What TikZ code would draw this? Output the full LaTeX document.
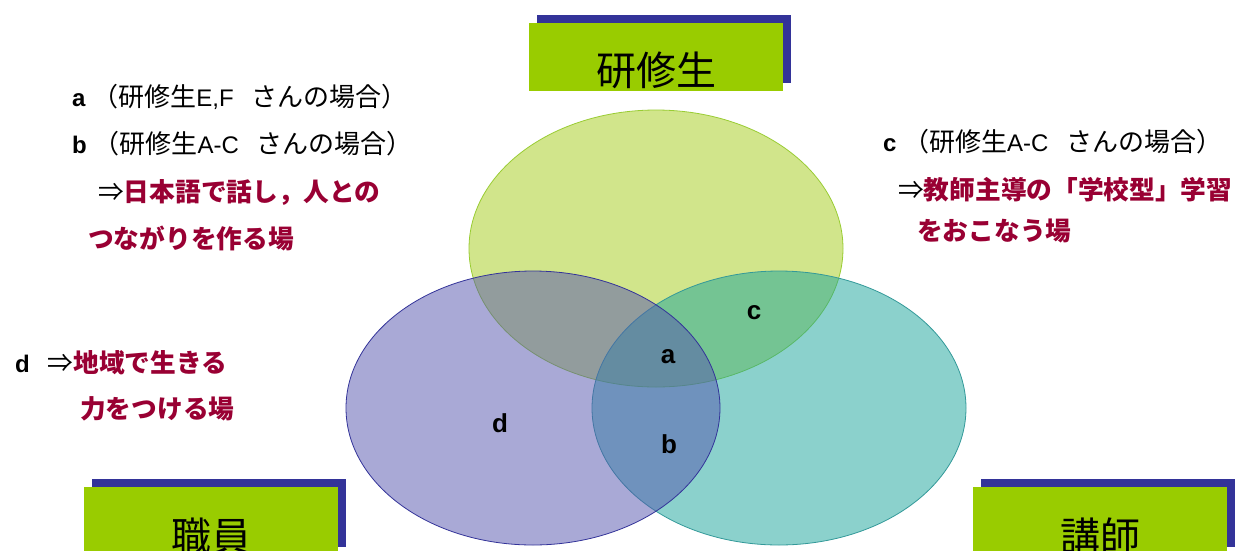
\documentclass[tikz,border=0pt]{standalone}
\usepackage{fontspec}
\setmainfont{Liberation Sans}
\newfontfamily\jp{Noto Sans CJK JP}
\usetikzlibrary{shadows,calc}
\definecolor{boxgreen}{RGB}{153,204,0}
\definecolor{navy}{RGB}{51,51,153}
\definecolor{wine}{RGB}{153,0,51}
\definecolor{gfill}{RGB}{165,205,25}
\definecolor{pfill}{RGB}{85,85,175}
\definecolor{tfill}{RGB}{25,165,155}
\definecolor{gline}{RGB}{153,204,51}
\definecolor{tline}{RGB}{51,153,153}
\newcommand{\jpn}[1]{{\jp\fontsize{26}{30}\selectfont #1}}
\tikzset{
  labelbox/.style={fill=boxgreen, draw=none, minimum width=254pt, minimum height=68pt, anchor=north west, inner sep=0pt,
    drop shadow={shadow xshift=8pt, shadow yshift=8pt, fill=navy, opacity=1}},
  boxtext/.style={font=\jp\fontsize{40}{44}\selectfont, inner sep=0pt},
  note/.style={anchor=west, inner sep=0pt, font=\fontsize{24}{28}\selectfont},
  rednote/.style={anchor=west, inner sep=0pt, text=wine, font=\jp\bfseries\fontsize{25.7}{29}\selectfont},
  region/.style={inner sep=0pt, font=\bfseries\fontsize{26}{30}\selectfont},
  circ/.style={fill opacity=0.5, draw opacity=1, line width=0.8pt}
}
\begin{document}
\begin{tikzpicture}[x=1pt,y=-1pt]
\useasboundingbox (0,0) rectangle (1235,550);
\clip (0,0) rectangle (1235,550);
\fill[white] (0,0) rectangle (1235,550);

% ellipses
\draw[circ, fill=gfill, draw=gline] (656,248.5) ellipse [x radius=187, y radius=138.5];
\draw[circ, fill=tfill, draw=tline] (779,408) ellipse [x radius=187, y radius=137];
\draw[circ, fill=pfill, draw=navy] (533,408) ellipse [x radius=187, y radius=137];

% region letters
\node[region] (ra) at (668,357) {a};
\node[region] (rb) at (669,444) {b};
\node[region] (rc) at (754,313) {c};
\node[region] (rd) at (500,423) {d};

% label boxes
\node[labelbox] (bk) at (529,23) {};
\node[boxtext] (tk) at ($(bk.north)+(0,47)$) {研修生};
\node[labelbox] (bs) at (84,487) {};
\node[boxtext] (ts) at ($(bs.north)+(0,49)$) {職員};
\node[labelbox] (bl) at (973,487) {};
\node[boxtext] (tl) at ($(bl.north)+(0,49)$) {講師};

% left notes
\node[note] (na) at (72,97) {\textbf{a} \jpn{（研修生}E,F\hspace{0.75em}\jpn{さんの場合）}};
\node[note] (nb) at (72,144) {\textbf{b} \jpn{（研修生}A-C\hspace{0.75em}\jpn{さんの場合）}};
\node[rednote] (nab1) at (98,192) {{\mdseries\color{black}⇒}日本語で話し，人との};
\node[rednote] (nab2) at (88,238) {つながりを作る場};

% right notes
\node[note] (nc) at (883,142) {\textbf{c} \jpn{（研修生}A-C\hspace{0.75em}\jpn{さんの場合）}};
\node[rednote] (nc1) at (898,190) {{\mdseries\color{black}⇒}教師主導の「学校型」学習};
\node[rednote] (nc2) at (917,231) {をおこなう場};

% d notes
\node[note] (nd) at (15,363) {\textbf{d}\hspace{18pt}{\jp\fontsize{25.7}{29}\selectfont ⇒\bfseries\color{wine}地域で生きる}};
\node[rednote] (nd2) at (80,409) {力をつける場};
\end{tikzpicture}
\end{document}
